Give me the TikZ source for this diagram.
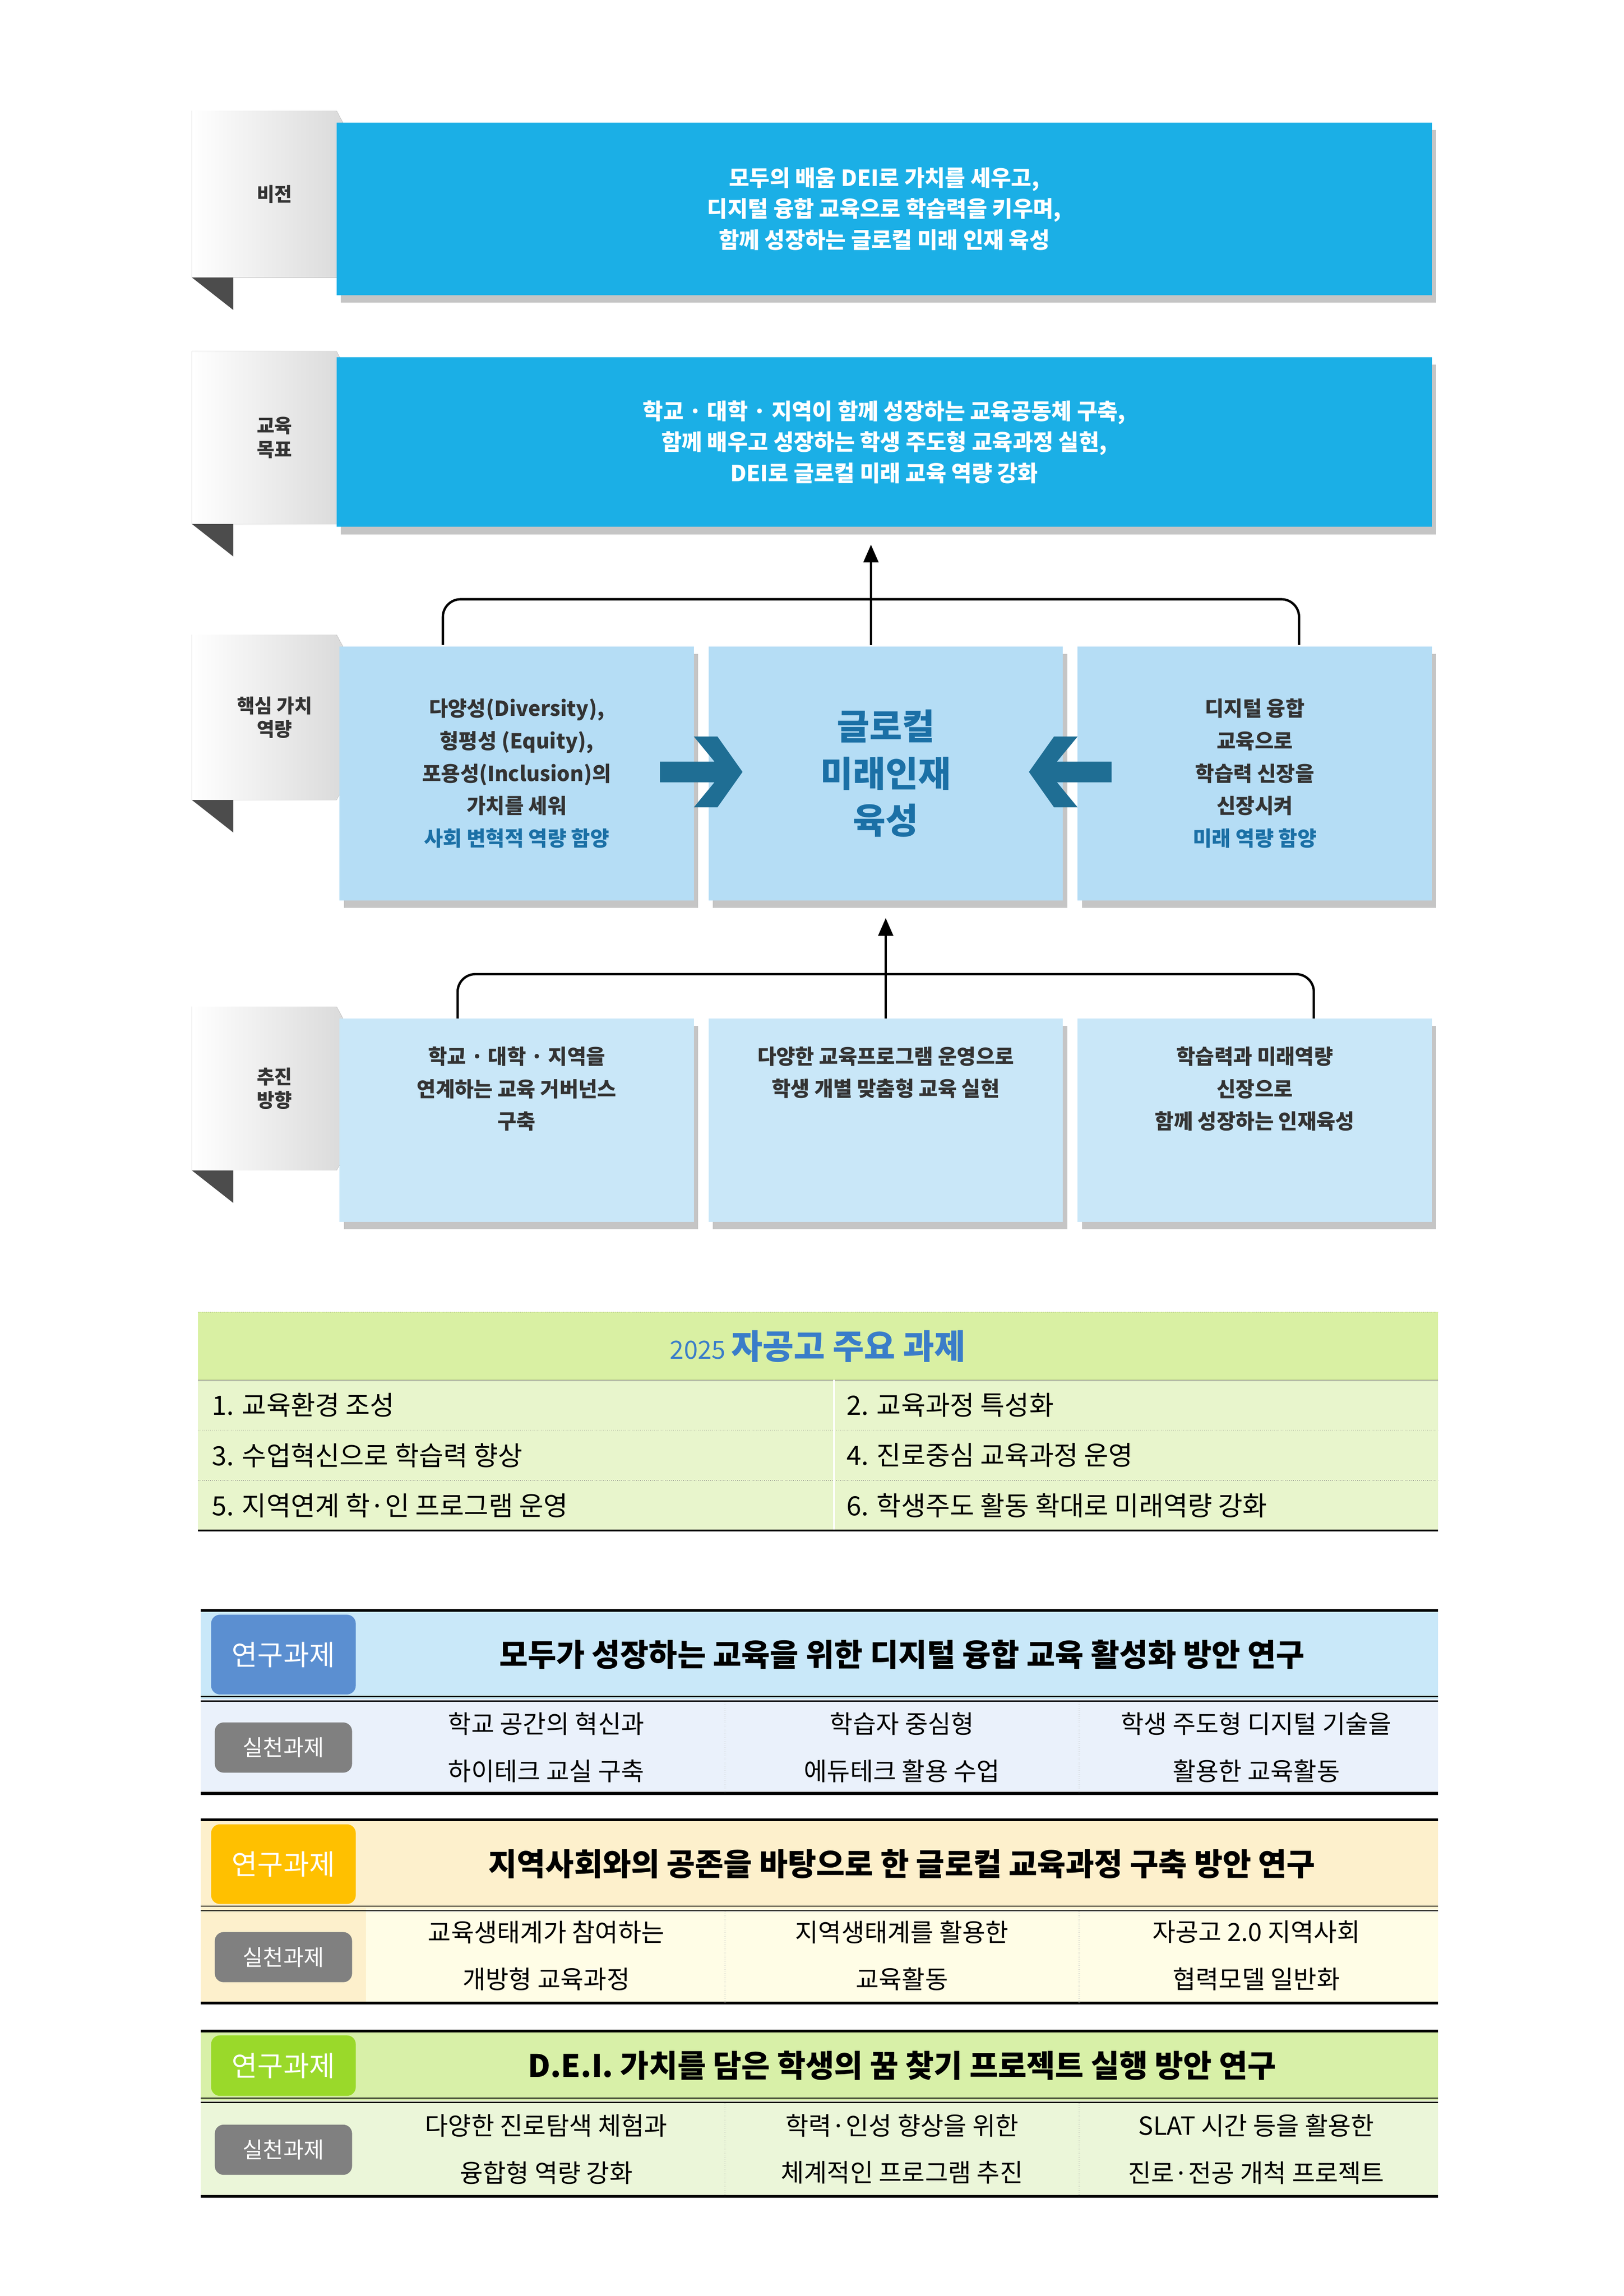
\documentclass[tikz,border=0pt]{standalone}
\usepackage{fontspec}
\setmainfont{Noto Sans CJK KR}
\usetikzlibrary{shadows,arrows.meta}
\definecolor{vis}{HTML}{1BAFE6}
\definecolor{core}{HTML}{B5DDF5}
\definecolor{dirc}{HTML}{C9E7F8}
\definecolor{dtext}{HTML}{333333}
\definecolor{btext}{HTML}{1B70A6}
\definecolor{teal}{HTML}{1F6E94}
\definecolor{hgreen}{HTML}{D9F0A3}
\definecolor{rgreen}{HTML}{E8F5CC}
\definecolor{tblue}{HTML}{3A7DC9}
\definecolor{bbtn}{HTML}{5B8FD1}\definecolor{bhdr}{HTML}{C9E8F9}\definecolor{bpr}{HTML}{EAF1FB}
\definecolor{ybtn}{HTML}{FFC000}\definecolor{yhdr}{HTML}{FDF0CC}\definecolor{ypr}{HTML}{FFFDE6}
\definecolor{gbtn}{HTML}{9AD92A}\definecolor{ghdr}{HTML}{D8F0A8}\definecolor{gpr}{HTML}{EBF6D9}
\tikzset{
 sbox/.style={draw=none,drop shadow={shadow xshift=3pt,shadow yshift=-5pt,fill=black!45}},
 lbl/.style={font=\bfseries\fontsize{13}{16}\selectfont,text=dtext,align=center},
 btxt/.style={font=\bfseries\fontsize{15}{21}\selectfont,align=center},
 ptxt/.style={font=\fontsize{17}{32}\selectfont,align=center},
 htxt/.style={font=\bfseries\fontsize{21}{24}\selectfont},
 rbox/.style={rounded corners=6pt,text=white,font=\fontsize{19}{20}\selectfont,inner sep=0pt},
 gbox/.style={rounded corners=6pt,fill=black!50,text=white,font=\fontsize{15}{16}\selectfont,inner sep=0pt},
 tt/.style={font=\fontsize{18}{20}\selectfont,anchor=west},
}
\newcommand{\lab}[4]{% name, y1, y2, text
 \fill[left color=white,right color=black!18] (130,#2) -- (228,#2) -- (258,{(#2+#3)/2}) -- (228,#3) -- (130,#3) -- cycle;
 \fill[black!70] (130,#3) -- (158,#3) -- (158,#3+22) -- cycle;
 \node[lbl] (#1) at (186,{(#2+#3)/2}) {#4};}
\newcommand{\rblock}[9]{% y0 y1 y2 btncol hdrfill leftfill practfill title name
 \fill[#5] (136,#1) rectangle (974,#2);
 \fill[#7] (136,#2) rectangle (974,#3);
 \fill[#6] (136,#2) rectangle (248,#3);
 \draw[line width=2pt] (136,#1) -- (974,#1);
 \draw[line width=0.8pt] (136,#2-1.5) -- (974,#2-1.5) (136,#2+1.5) -- (974,#2+1.5);
 \draw[line width=2pt] (136,#3) -- (974,#3);
 \draw[black!35,densely dotted] (491,#2+2) -- (491,#3) (731,#2+2) -- (731,#3);
 \node[rbox,fill=#4,minimum width=98pt,minimum height={#2-#1-6}] (#9a) at (192,{(#1+#2)/2}) {연구과제};
 \node[gbox,minimum width=93pt,minimum height=34pt] (#9b) at (192,{(#2+#3)/2+1}) {실천과제};
 \node[htxt] (#9t) at (611,{(#1+#2)/2}) {#8};}
\begin{document}
\begin{tikzpicture}[x=1pt,y=-1pt]
\fill[white] (0,0) rectangle (1100,1555.6);
\useasboundingbox (0,0) rectangle (1100,1555.6);
% row labels
\lab{lv}{75}{188}{비전}
\lab{lg}{238}{355}{교육\\목표}
\lab{lc}{430}{542}{핵심 가치\\역량}
\lab{ld}{682}{793}{추진\\방향}
% vision / goal
\node[sbox,fill=vis,minimum width=742pt,minimum height=117pt,text=white,btxt] (vis) at (599,141.5)
 {모두의 배움 DEI로 가치를 세우고,\\디지털 융합 교육으로 학습력을 키우며,\\함께 성장하는 글로컬 미래 인재 육성};
\node[sbox,fill=vis,minimum width=742pt,minimum height=115pt,text=white,btxt] (goal) at (599,299.5)
 {학교 · 대학 · 지역이 함께 성장하는 교육공동체 구축,\\함께 배우고 성장하는 학생 주도형 교육과정 실현,\\DEI로 글로컬 미래 교육 역량 강화};
% core row
\node[sbox,fill=core,minimum width=240pt,minimum height=172pt,text=dtext,btxt,font=\bfseries\fontsize{14}{22}\selectfont] (c1) at (350,524)
 {다양성(Diversity),\\형평성 (Equity),\\포용성(Inclusion)의\\가치를 세워\\\textcolor{btext}{사회 변혁적 역량 함양}};
\node[sbox,fill=core,minimum width=240pt,minimum height=172pt,text=btext,font=\bfseries\fontsize{24}{32}\selectfont,align=center] (c2) at (600,524)
 {글로컬\\미래인재\\육성};
\node[sbox,fill=core,minimum width=240pt,minimum height=172pt,text=dtext,btxt,font=\bfseries\fontsize{14}{22}\selectfont] (c3) at (850,524)
 {디지털 융합\\교육으로\\학습력 신장을\\신장시켜\\\textcolor{btext}{미래 역량 함양}};
% block arrows
\fill[teal] (447,516) -- (484,516) -- (470,499) -- (486,499) -- (503,523) -- (486,547) -- (470,547) -- (484,530) -- (447,530) -- cycle;
\fill[teal] (753,516) -- (716,516) -- (730,499) -- (714,499) -- (697,523) -- (714,547) -- (730,547) -- (716,530) -- (753,530) -- cycle;
% direction row
\node[sbox,fill=dirc,minimum width=240pt,minimum height=138pt,text=dtext,font=\bfseries\fontsize{14}{22}\selectfont,align=center] (d1) at (350,759) {학교 · 대학 · 지역을\\연계하는 교육 거버넌스\\구축\\[22pt]};
\node[sbox,fill=dirc,minimum width=240pt,minimum height=138pt,text=dtext,font=\bfseries\fontsize{14}{22}\selectfont,align=center] (d2) at (600,759) {다양한 교육프로그램 운영으로\\학생 개별 맞춤형 교육 실현\\[44pt]};
\node[sbox,fill=dirc,minimum width=240pt,minimum height=138pt,text=dtext,font=\bfseries\fontsize{14}{22}\selectfont,align=center] (d3) at (850,759) {학습력과 미래역량\\신장으로\\함께 성장하는 인재육성\\[22pt]};
% brackets
\coordinate (b1l) at (300,437); \coordinate (b1r) at (880,437);
\draw[line width=1.6pt,rounded corners=12pt] (b1l) -- (300,406) -- (880,406) -- (b1r);
\draw[line width=1.6pt,-{Triangle[length=12pt,width=10pt]}] (590,437) -- (590,369);
\coordinate (b2l) at (310,690); \coordinate (b2r) at (890,690);
\draw[line width=1.6pt,rounded corners=12pt] (b2l) -- (310,660) -- (890,660) -- (b2r);
\draw[line width=1.6pt,-{Triangle[length=12pt,width=10pt]}] (600,690) -- (600,622);
% table 1
\fill[hgreen] (134,889) rectangle (974,935);
\fill[rgreen] (134,935) rectangle (974,1037);
\draw[black!50,densely dotted] (134,889) -- (974,889);
\draw[black!60] (134,935) -- (974,935);
\draw[black!50,densely dotted] (134,969) -- (974,969) (134,1003) -- (974,1003);
\draw[white,line width=1pt] (565,935) -- (565,1037);
\draw[line width=1.4pt] (134,1037) -- (974,1037);
\node[text=tblue] (t0) at (554,912) {\fontsize{17}{20}\selectfont 2025 \fontsize{23}{24}\selectfont\bfseries 자공고 주요 과제};
\node[tt] (t1) at (140,952) {1. 교육환경 조성};
\node[tt] (t2) at (570,952) {2. 교육과정 특성화};
\node[tt] (t3) at (140,986) {3. 수업혁신으로 학습력 향상};
\node[tt] (t4) at (570,986) {4. 진로중심 교육과정 운영};
\node[tt] (t5) at (140,1020) {5. 지역연계 학·인 프로그램 운영};
\node[tt] (t6) at (570,1020) {6. 학생주도 활동 확대로 미래역량 강화};
% research blocks
\rblock{1091}{1151}{1215}{bbtn}{bhdr}{bpr}{bpr}{모두가 성장하는 교육을 위한 디지털 융합 교육 활성화 방안 연구}{ra}
\node[ptxt] (ra1) at (370,1184) {학교 공간의 혁신과\\하이테크 교실 구축};
\node[ptxt] (ra2) at (611,1184) {학습자 중심형\\에듀테크 활용 수업};
\node[ptxt] (ra3) at (851,1184) {학생 주도형 디지털 기술을\\활용한 교육활동};
\rblock{1233}{1293}{1357}{ybtn}{yhdr}{yhdr}{ypr}{지역사회와의 공존을 바탕으로 한 글로컬 교육과정 구축 방안 연구}{rb}
\node[ptxt] (rb1) at (370,1325) {교육생태계가 참여하는\\개방형 교육과정};
\node[ptxt] (rb2) at (611,1325) {지역생태계를 활용한\\교육활동};
\node[ptxt] (rb3) at (851,1325) {자공고 2.0 지역사회\\협력모델 일반화};
\rblock{1376}{1423}{1488}{gbtn}{ghdr}{gpr}{gpr}{D.E.I. 가치를 담은 학생의 꿈 찾기 프로젝트 실행 방안 연구}{rc}
\node[ptxt] (rc1) at (370,1456) {다양한 진로탐색 체험과\\융합형 역량 강화};
\node[ptxt] (rc2) at (611,1456) {학력·인성 향상을 위한\\체계적인 프로그램 추진};
\node[ptxt] (rc3) at (851,1456) {SLAT 시간 등을 활용한\\진로·전공 개척 프로젝트};
\end{tikzpicture}
\end{document}
